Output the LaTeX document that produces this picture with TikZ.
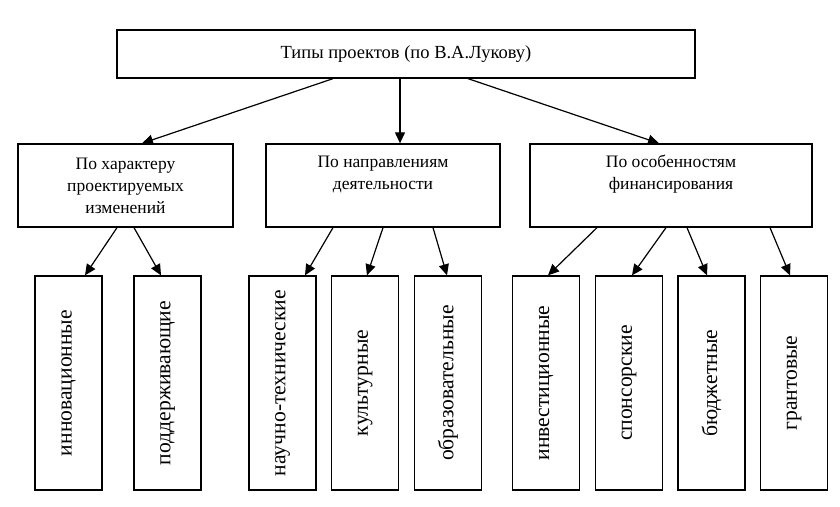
\documentclass[tikz,border=0pt]{standalone}
\usepackage{fontspec}
\setmainfont{Liberation Serif}
\usetikzlibrary{arrows.meta}

\begin{document}
\begin{tikzpicture}[
      x=1pt, y=-1pt,
      root/.style ={rectangle, draw, line width=1.3pt, minimum width=578pt, minimum height=48pt, font=\fontsize{18.5}{20}\selectfont},
      head/.style ={rectangle, draw, line width=1.3pt, minimum height=83pt, align=center, font=\fontsize{17.5}{22}\selectfont},
      twoline/.style={text depth=26pt},
      leaf/.style ={rectangle, draw, line width=1.3pt, minimum width=67pt, minimum height=214pt, inner sep=0pt, font=\fontsize{21.6}{24}\selectfont},
      arr/.style ={-{Triangle[length=11pt,width=10pt]}, line width=1.2pt}
    ]
    \useasboundingbox (0,0) rectangle (840,506);

    \node [root] (types) at (406,54) {Типы проектов (по В.А.Лукову)} ;

    \node [head, minimum width=215pt] (char) at (125.5,185.5) {По характеру\\проектируемых\\изменений} ;
    \node [head, twoline, minimum width=234pt] (dir) at (383,185.5) {По направлениям\\деятельности} ;
    \node [head, twoline, minimum width=282pt] (fin) at (671,185.5) {По особенностям\\финансирования} ;

    \node [leaf] (innov) at (68.5,383) {\rotatebox{90}{инновационные}} ;
    \node [leaf] (supp) at (167.5,383) {\rotatebox{90}{поддерживающие}} ;
    \node [leaf] (sci) at (282.5,383) {\rotatebox{90}{научно-технические}} ;
    \node [leaf] (cult) at (365,383) {\rotatebox{90}{культурные}} ;
    \node [leaf] (edu) at (448,383) {\rotatebox{90}{образовательные}} ;
    \node [leaf] (invest) at (546,383) {\rotatebox{90}{инвестиционные}} ;
    \node [leaf] (spons) at (629,383) {\rotatebox{90}{спонсорские}} ;
    \node [leaf] (budget) at (711.5,383) {\rotatebox{90}{бюджетные}} ;
    \node [leaf] (grant) at (794,383) {\rotatebox{90}{грантовые}} ;

    % from the root
    \draw [arr] ([xshift=-73pt]types.south) -- ([xshift=16.5pt]char.north) ;
    \draw [arr] ([xshift=-6pt]types.south) -- ([xshift=17pt]dir.north) ;
    \draw [arr] ([xshift=62pt]types.south) -- ([xshift=-12pt]fin.north) ;

    % second level
    \draw [arr] ([xshift=-8.5pt]char.south) -- ([xshift=16.5pt]innov.north) ;
    \draw [arr] ([xshift=8.5pt]char.south) -- ([xshift=-6.5pt]supp.north) ;
    \draw [arr] ([xshift=-50pt]dir.south) -- ([xshift=22.5pt]sci.north) ;
    \draw [arr] (dir.south) -- ([xshift=2pt]cult.north) ;
    \draw [arr] ([xshift=50pt]dir.south) -- ([xshift=-1pt]edu.north) ;
    \draw [arr] ([xshift=-74pt]fin.south) -- ([xshift=2pt]invest.north) ;
    \draw [arr] ([xshift=-5pt]fin.south) -- ([xshift=3pt]spons.north) ;
    \draw [arr] ([xshift=16pt]fin.south) -- ([xshift=-4.5pt]budget.north) ;
    \draw [arr] ([xshift=99pt]fin.south) -- ([xshift=-4pt]grant.north) ;
  \end{tikzpicture}
\end{document}
